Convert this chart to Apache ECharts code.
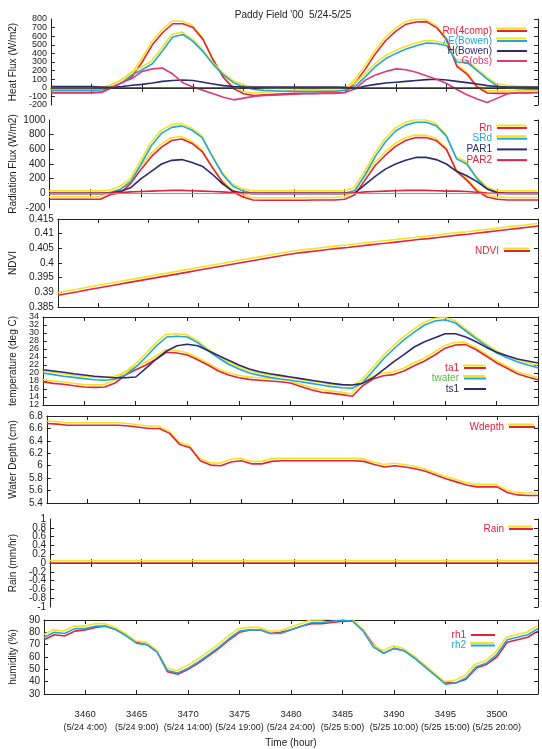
<!DOCTYPE html>
<html>
<head>
<meta charset="utf-8">
<script src="https://cdn.jsdelivr.net/npm/echarts@6/dist/echarts.min.js"></script>
<style>
  html, body { margin: 0; padding: 0; background: #fff; }
  #chart { width: 542px; height: 749px; }
</style>
</head>
<body>
<div id="chart"></div>
<script>
// hourly samples, 3456 = 5/24 0:00
const hours = [3456, 3457, 3458, 3459, 3460, 3461, 3462, 3463, 3464, 3465, 3466, 3467, 3468, 3469, 3470, 3471, 3472,
  3473, 3474, 3475, 3476, 3477, 3478, 3479, 3480, 3481, 3482, 3483, 3484, 3485, 3486, 3487, 3488, 3489, 3490,
  3491, 3492, 3493, 3494, 3495, 3496, 3497, 3498, 3499, 3500, 3501, 3502, 3503, 3504]
const tickHours = [3460, 3465, 3470, 3475, 3480, 3485, 3490, 3495, 3500]
const tickDates = ['5/24 4:00', '5/24 9:00', '5/24 14:00', '5/24 19:00', '5/24 24:00',
  '5/25 5:00', '5/25 10:00', '5/25 15:00', '5/25 20:00']

// heat flux (W/m2)
const rn4comp = [-55, -55, -55, -55, -55, -50, 10, 60, 130, 300, 500, 640, 745, 745, 700, 560, 320, 120, -10, -70, -90,
  -80, -75, -70, -65, -65, -65, -60, -60, -55, 60, 220, 400, 550, 660, 740, 765, 770, 700, 560, 250, 160, 10, -60,
  -65, -65, -60, -60, -55]
const lambdaE = [-30, -30, -30, -30, -30, -25, 0, 60, 150, 210, 280, 430, 590, 620, 540, 420, 270, 150, 60, 10, -20,
  -30, -35, -40, -40, -45, -45, -40, -40, -30, 20, 130, 250, 340, 400, 450, 490, 520, 515, 490, 300, 295, 200, 100,
  20, 0, -10, -15, -20]
const hBowen = [15, 15, 15, 15, 15, 10, 5, 15, 30, 40, 55, 75, 85, 90, 85, 65, 45, 25, 15, 10, 10, 10, 10, 10, 10, 10,
  10, 10, 10, 5, -10, 20, 40, 55, 65, 75, 85, 95, 100, 90, 75, 60, 45, 25, 15, 10, 10, 10, 10]
const gObs = [-60, -60, -60, -60, -60, -55, 0, 60, 110, 190, 220, 230, 160, 60, 10, -30, -70, -110, -140, -120, -100,
  -90, -85, -80, -75, -70, -70, -65, -65, -55, -10, 90, 150, 190, 220, 210, 180, 140, 100, 50, -20, -80, -130, -170,
  -120, -70, -55, -55, -55]

// radiation flux (W/m2)
const rn = [-80, -80, -80, -80, -80, -80, -15, 10, 140, 330, 500, 630, 720, 740, 680, 570, 350, 150, 20, -50, -90,
  -95, -95, -95, -95, -95, -90, -90, -90, -80, -20, 180, 380, 520, 640, 720, 760, 760, 720, 600, 300, 180, 30, -50,
  -80, -90, -90, -90, -90]
const srd = [0, 0, 0, 0, 0, 0, 10, 60, 160, 400, 650, 820, 900, 920, 860, 760, 500, 260, 100, 30, 0, 0, 0, 0, 0, 0, 0,
  0, 0, 0, 40, 250, 500, 700, 850, 930, 970, 970, 920, 780, 470, 400, 200, 60, 0, 0, 0, 0, 0]
const par1 = [0, 0, 0, 0, 0, 0, 5, 30, 80, 200, 300, 400, 450, 460, 420, 370, 260, 130, 30, 5, 0, 0, 0, 0, 0, 0, 0, 0,
  0, 0, 5, 120, 230, 330, 400, 450, 490, 490, 460, 400, 300, 240, 160, 60, 10, 0, 0, 0, 0]
const par2 = [0, 0, 0, 0, 0, 0, 0, 10, 20, 25, 30, 35, 40, 40, 35, 30, 25, 20, 10, 0, 0, 0, 0, 0, 0, 0, 0, 0, 0, 0, 5,
  20, 25, 30, 35, 40, 40, 40, 35, 30, 30, 25, 15, 5, 0, 0, 0, 0, 0]

const ndvi = [0.3890, 0.3896, 0.3902, 0.3909, 0.3915, 0.3921, 0.3927, 0.3933, 0.3939, 0.3945, 0.3951, 0.3957,
  0.3963, 0.3969, 0.3975, 0.3981, 0.3987, 0.3993, 0.3999, 0.4005, 0.4011, 0.4017, 0.4023, 0.4029, 0.4034, 0.4038,
  0.4042, 0.4046, 0.4050, 0.4053, 0.4057, 0.4061, 0.4065, 0.4068, 0.4072, 0.4076, 0.4080, 0.4083, 0.4087, 0.4091,
  0.4095, 0.4098, 0.4102, 0.4106, 0.4110, 0.4114, 0.4118, 0.4122, 0.4126]

// temperature (deg C)
const ta1 = [17.8, 17.4, 17.2, 16.8, 16.5, 16.4, 16.5, 17.5, 19.5, 20.8, 22.0, 23.5, 25.2, 25.0, 24.5, 23.3, 22.0,
  20.5, 19.5, 18.8, 18.4, 18.2, 18.0, 17.8, 17.5, 16.6, 15.8, 15.2, 14.9, 14.6, 14.2, 16.8, 18.5, 19.3, 19.6, 20.5,
  21.8, 23.0, 24.5, 26.2, 27.0, 27.1, 25.8, 24.2, 22.5, 21.2, 19.8, 19.0, 18.3]
const twater = [20.0, 19.6, 19.2, 18.9, 18.6, 18.3, 18.2, 18.5, 19.5, 21.5, 24.0, 26.8, 29.0, 29.2, 29.0, 27.6, 25.6,
  23.8, 22.2, 21.0, 20.0, 19.4, 18.9, 18.5, 18.2, 17.8, 17.4, 17.0, 16.6, 16.3, 16.2, 17.6, 20.5, 23.5, 26.0, 28.3,
  30.2, 32.0, 33.0, 33.3, 32.5, 30.5, 28.6, 26.8, 25.0, 23.8, 22.8, 22.0, 21.3]
const ts1 = [20.8, 20.5, 20.2, 19.8, 19.5, 19.2, 19.0, 18.8, 18.8, 19.0, 21.2, 23.5, 25.5, 26.8, 27.2, 26.8, 25.6,
  24.4, 23.2, 22.0, 21.0, 20.3, 19.8, 19.4, 19.0, 18.6, 18.2, 17.8, 17.4, 17.1, 17.0, 17.4, 18.8, 20.8, 22.8, 24.6,
  26.5, 27.8, 28.8, 29.8, 29.8, 29.0, 27.8, 26.4, 25.2, 24.3, 23.5, 23.0, 22.5]

const wdepth = [6.68, 6.67, 6.65, 6.65, 6.65, 6.65, 6.65, 6.65, 6.64, 6.62, 6.60, 6.60, 6.52, 6.34, 6.29, 6.08, 6.01,
  6.00, 6.06, 6.08, 6.03, 6.03, 6.07, 6.08, 6.08, 6.08, 6.08, 6.08, 6.08, 6.08, 6.08, 6.07, 6.02, 5.98, 6.00, 5.98,
  5.95, 5.91, 5.85, 5.79, 5.74, 5.69, 5.66, 5.66, 5.66, 5.57, 5.53, 5.52, 5.52]
const rain = [0, 0, 0, 0, 0, 0, 0, 0, 0, 0, 0, 0, 0, 0, 0, 0, 0, 0, 0, 0, 0, 0, 0, 0, 0, 0, 0, 0, 0, 0, 0, 0, 0, 0, 0,
  0, 0, 0, 0, 0, 0, 0, 0, 0, 0, 0, 0, 0, 0]

// humidity (%)
const rh1 = [74, 78, 77, 81, 82, 84, 85, 82, 78, 72, 70, 64, 48, 46, 50, 55, 61, 67, 74, 80, 82, 82, 79, 80, 82, 85,
  87, 87, 88, 89, 89, 82, 70, 63, 67, 65, 60, 53, 46, 39, 39, 42, 51, 54, 60, 72, 74, 76, 81]
const rh2 = [76, 80, 79, 83, 83, 85, 85, 82, 77, 71, 70, 64, 49, 47, 51, 56, 62, 68, 75, 81, 82, 82, 79, 79, 82, 85,
  88, 88, 89, 90, 89, 81, 68, 63, 67, 65, 59, 52, 45, 38, 39, 43, 52, 55, 62, 74, 76, 78, 83]

const RED = '#e2233d'
const YEL = 'rgba(246,226,20,0.95)'
const CYAN = '#1fa7de'
const NAVY = '#2c2a72'
const PINK = '#de3a74'
const FONT = 'Liberation Sans'

var chart = echarts.init(document.getElementById('chart'))

const grids = []
const xAxes = []
const yAxes = []
const series = []
const legends = []

const pairs = arr => hours.map((h, i) => [h, arr[i]])

// one gnuplot-style panel: box with inward ticks on all four sides
function addPanel (top, height, yMin, yMax, yStep, yName, labelSize, bottomLabels) {
  const g = grids.length
  grids.push({ left: 41, right: 4, top: top, height: height })
  const line = { show: true, lineStyle: { color: '#222', width: 1 } }
  const tick = { show: true, inside: true, length: 4, lineStyle: { color: '#222' }, customValues: tickHours }
  xAxes.push({
    gridIndex: g, type: 'value', min: 3456, max: 3504, position: 'bottom',
    axisLine: line, axisTick: tick, splitLine: { show: false },
    axisLabel: bottomLabels ? {
      show: true, customValues: tickHours, margin: 13, showMinLabel: true, showMaxLabel: true, hideOverlap: false,
      fontFamily: FONT, color: '#222',
      formatter: v => '{n|' + v + '}\n{d|(' + tickDates[tickHours.indexOf(v)] + ')}',
      rich: {
        n: { fontFamily: FONT, fontSize: 9.5, color: '#222', lineHeight: 14 },
        d: { fontFamily: FONT, fontSize: 9, color: '#222', lineHeight: 14 }
      }
    } : { show: false },
    name: bottomLabels ? 'Time (hour)' : '', nameLocation: 'middle', nameGap: 44,
    nameTextStyle: { fontFamily: FONT, fontSize: 10, color: '#222' }
  })
  xAxes.push({
    gridIndex: g, type: 'value', min: 3456, max: 3504, position: 'top',
    axisLine: line, axisTick: tick, axisLabel: { show: false }, splitLine: { show: false }
  })
  const ytick = { show: true, inside: true, length: 4, lineStyle: { color: '#222' } }
  const labelStyle = { margin: 4, fontFamily: FONT, fontSize: labelSize, color: '#222', hideOverlap: false }
  // left axis: interior labels
  yAxes.push({
    gridIndex: g, type: 'value', min: yMin, max: yMax, interval: yStep, position: 'left',
    axisLine: line, axisTick: ytick, splitLine: { show: false },
    axisLabel: Object.assign({ showMinLabel: false, showMaxLabel: false }, labelStyle),
    name: yName, nameLocation: 'middle', nameRotate: 90, nameGap: 20,
    nameTextStyle: { fontFamily: FONT, fontSize: 10, color: '#222' }
  })
  // right axis: ticks only
  yAxes.push({
    gridIndex: g, type: 'value', min: yMin, max: yMax, interval: yStep, position: 'right',
    axisLine: line, axisTick: ytick, axisLabel: { show: false }, splitLine: { show: false }
  })
  // overlay on the left: only the end labels, which ECharts would otherwise drop when crowded
  yAxes.push({
    gridIndex: g, type: 'value', min: yMin, max: yMax, interval: yStep, position: 'left',
    axisLine: { show: false }, axisTick: { show: false }, splitLine: { show: false },
    axisLabel: Object.assign({
      showMinLabel: true, showMaxLabel: true,
      formatter: v => (Math.abs(v - yMin) < 1e-9 || Math.abs(v - yMax) < 1e-9) ? String(v) : ''
    }, labelStyle)
  })
  return g
}

function ghostStyle (ghost) {
  return ghost ? { shadowColor: ghost, shadowOffsetY: -2.5, shadowOffsetX: -1, shadowBlur: 0 } : {}
}

function addLine (g, name, arr, color, ghost, extra) {
  const ls = Object.assign({ color: color, width: 1.6 }, ghostStyle(ghost))
  series.push(Object.assign({
    name: name, type: 'line', xAxisIndex: g * 2, yAxisIndex: g * 3,
    data: pairs(arr), symbol: 'none', lineStyle: ls, itemStyle: { color: color },
    animation: false, silent: true
  }, extra || {}))
}

// items: [name, textColor, lineColor, ghostColor]
function addLegend (top, right, itemWidth, items, gap) {
  legends.push({
    top: top, right: right, orient: 'vertical', align: 'right',
    icon: 'rect', itemWidth: itemWidth, itemHeight: 2, itemGap: gap, padding: 0,
    selectedMode: false,
    textStyle: { fontFamily: FONT, fontSize: 10, lineHeight: 10, padding: [0, 0, 0, 0] },
    data: items.map(it => ({
      name: it[0],
      itemStyle: Object.assign({ color: it[2] }, ghostStyle(it[3])),
      textStyle: it[3] ? { color: it[1], textShadowColor: it[3], textShadowOffsetY: -2, textShadowOffsetX: -1, textShadowBlur: 0 }
        : { color: it[1] }
    }))
  })
}

const zeroLine = (color, width) => ({
  markLine: {
    silent: true, symbol: 'none', label: { show: false },
    lineStyle: { color: color, width: width, type: 'solid' },
    data: [{ yAxis: 0 }]
  }
})

// 1 heat flux
let g = addPanel(19, 86, -200, 800, 100, 'Heat Flux (W/m2)', 9, false)
addLine(g, 'Rn(4comp)', rn4comp, RED, YEL, zeroLine('#333', 1.5))
addLine(g, 'λE(Bowen)', lambdaE, CYAN, YEL)
addLine(g, 'H(Bowen)', hBowen, NAVY, null)
addLine(g, 'G(obs)', gObs, PINK, null)
addLegend(26, 15, 30, [['Rn(4comp)', RED, RED, YEL], ['λE(Bowen)', CYAN, CYAN, YEL], ['H(Bowen)', NAVY, NAVY],
  ['G(obs)', PINK, PINK]], 0)

// 2 radiation flux
g = addPanel(120, 88, -200, 1000, 200, 'Radiation Flux (W/m2)', 10, false)
addLine(g, 'Rn', rn, RED, YEL, zeroLine('#999', 1))
addLine(g, 'SRd', srd, CYAN, YEL)
addLine(g, 'PAR1', par1, NAVY, null)
addLine(g, 'PAR2', par2, RED, null)
addLegend(123, 15, 30, [['Rn', RED, RED, YEL], ['SRd', CYAN, CYAN, YEL], ['PAR1', NAVY, NAVY], ['PAR2', RED, RED]], 0.7)

// 3 NDVI
g = addPanel(219, 88, 0.385, 0.415, 0.005, 'NDVI', 10, false)
addLine(g, 'NDVI', ndvi, RED, YEL)
addLegend(246, 12, 26, [['NDVI', RED, RED, YEL]], 0)

// 4 temperature
g = addPanel(317, 88, 12, 34, 2, 'temperature (deg C)', 9, false)
addLine(g, 'ta1', ta1, RED, YEL)
addLine(g, 'twater', twater, CYAN, YEL)
addLine(g, 'ts1', ts1, NAVY, null)
addLegend(363, 56, 22, [['ta1', RED, RED, YEL], ['twater', '#5cb84a', CYAN, YEL], ['ts1', NAVY, NAVY]], 0.5)

// 5 water depth
g = addPanel(416, 87, 5.4, 6.8, 0.2, 'Water Depth (cm)', 10, false)
addLine(g, 'Wdepth', wdepth, RED, YEL)
addLegend(422, 7, 26, [['Wdepth', RED, RED, YEL]], 0)

// 6 rain
g = addPanel(519, 88, -1, 1, 0.2, 'Rain (mm/hr)', 10, false)
addLine(g, 'Rain', rain, RED, YEL)
addLegend(524, 9, 24, [['Rain', RED, RED, YEL]], 0)

// 7 humidity
g = addPanel(620, 80, 30, 90, 10, 'humidity (%)', 10, true)
addLine(g, 'rh1', rh1, RED, null)
addLine(g, 'rh2', rh2, CYAN, YEL)
addLegend(630, 47, 24, [['rh1', RED, RED], ['rh2', CYAN, CYAN, YEL]], 0.5)

var option = {
  backgroundColor: '#fff',
  animation: false,
  title: {
    text: "Paddy Field '00  5/24-5/25", left: 288, top: 5, textAlign: 'center',
    textStyle: { fontFamily: FONT, fontSize: 10, fontWeight: 'normal', color: '#222' }
  },
  grid: grids,
  xAxis: xAxes,
  yAxis: yAxes,
  legend: legends,
  series: series
}
option && chart.setOption(option)
</script>
</body>
</html>
